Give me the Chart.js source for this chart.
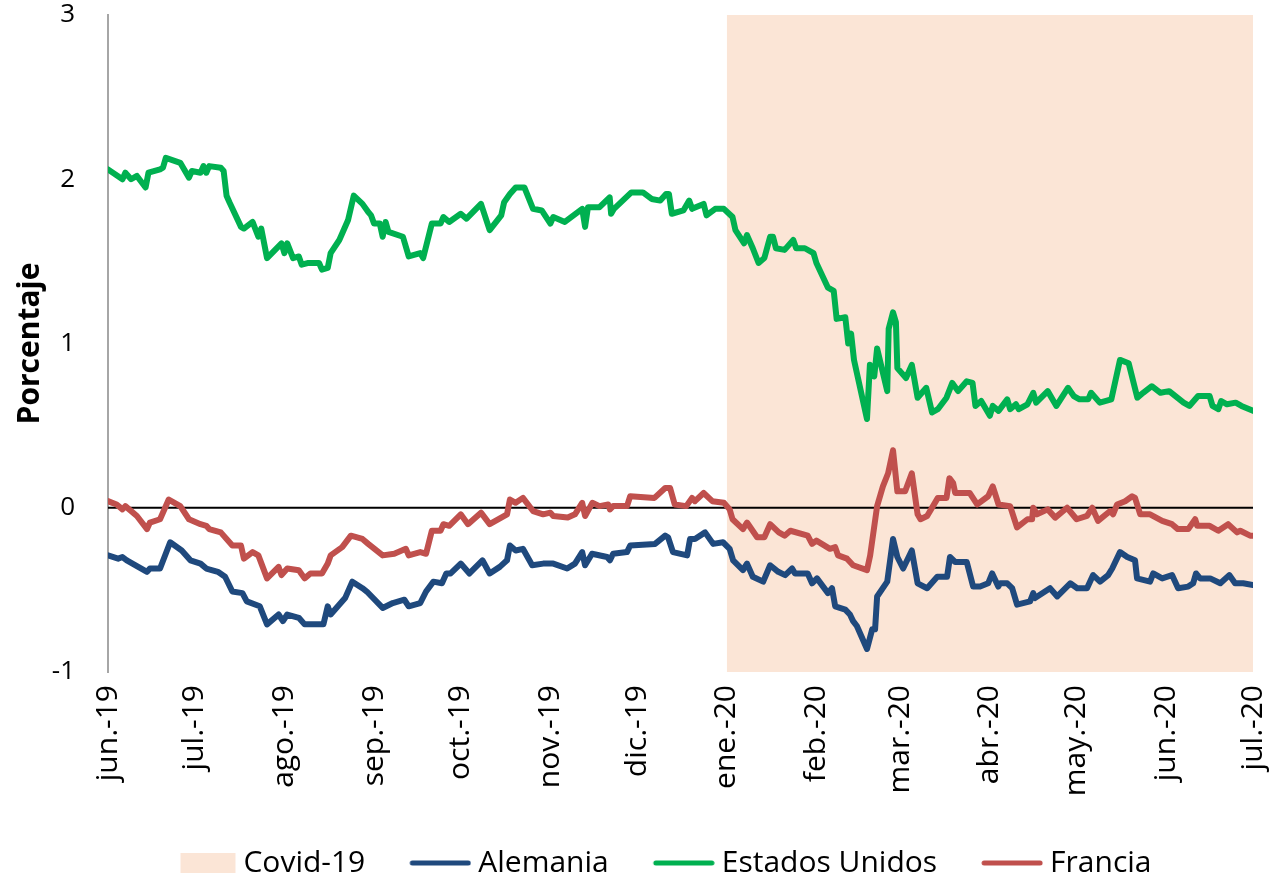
<!DOCTYPE html>
<html>
<head>
<meta charset="utf-8">
<script src="https://cdn.jsdelivr.net/npm/chart.js@4/dist/chart.umd.min.js"></script>
<style>
  html, body { margin: 0; padding: 0; background: #fff; }
  #wrap { width: 1273px; height: 883px; position: relative; }
</style>
</head>
<body>
<div id="wrap"><canvas id="grafico"></canvas></div>
<script>
"use strict";

// Eje X: dias desde el 1 de junio de 2019
var etiquetasMes = ["jun.-19", "jul.-19", "ago.-19", "sep.-19", "oct.-19", "nov.-19", "dic.-19",
  "ene.-20", "feb.-20", "mar.-20", "abr.-20", "may.-20", "jun.-20", "jul.-20"];
var diasMes = [0, 30, 61, 92, 122, 153, 183, 214, 245, 274, 305, 335, 366, 396];

// Periodo sombreado (Covid-19)
var periodoCovid = [214, 396];

var diasAlemania = [
  0, 3.5, 5, 6.5, 13.5, 14.5, 18, 21.5, 25.5, 28.5,
  32, 34, 38, 40.5, 43, 46.5, 48, 52.5, 55, 59,
  60.5, 62, 66, 68, 73, 74.5, 76, 77, 82, 84.5,
  88, 89.5, 95, 98.5, 102.5, 104, 108, 110, 112.5, 115.5,
  117, 118.5, 122, 125, 129.5, 132, 135.5, 138, 139, 141,
  143.5, 146.7, 150.5, 154, 158.8, 161.5, 164, 165, 167.4, 172.6,
  173.6, 174.7, 179.5, 180.6, 189.2, 192.7, 193.7, 195.4, 200.3, 201.3,
  203, 206.5, 209.3, 212.7, 215, 216.2, 219.6, 221, 223, 226.6,
  229, 231.8, 234.2, 236.6, 237.6, 242, 243.5, 245.2, 249, 250.4,
  251.5, 255, 256.6, 257.7, 259, 262.5, 264.3, 265.3, 266, 269.5,
  271.5, 273, 275, 278, 280, 283.3, 286.8, 290.2, 291.2, 293,
  297, 299.2, 301.6, 304.4, 305.8, 307.9, 308.5, 311, 312.7, 314.4,
  318.9, 320, 320.6, 325.8, 328.3, 332.8, 335.2, 338.6, 340.7, 343.1,
  345.9, 347.3, 350, 352.5, 355.2, 355.9, 360.4, 361.5, 364.6, 368,
  370.1, 373.6, 375.3, 376.3, 377.7, 381.2, 384.7, 387.8, 389.8, 392.6,
  396
];
var alemania = [
  -0.29, -0.31, -0.30, -0.32, -0.39, -0.37, -0.37, -0.21, -0.26, -0.32,
  -0.34, -0.37, -0.39, -0.42, -0.51, -0.52, -0.57, -0.60, -0.71, -0.65,
  -0.69, -0.65, -0.67, -0.71, -0.71, -0.71, -0.60, -0.65, -0.55, -0.45,
  -0.49, -0.51, -0.61, -0.58, -0.56, -0.60, -0.58, -0.51, -0.45, -0.46,
  -0.40, -0.40, -0.34, -0.40, -0.32, -0.40, -0.36, -0.32, -0.23, -0.26,
  -0.25, -0.35, -0.34, -0.34, -0.37, -0.34, -0.27, -0.35, -0.28, -0.30,
  -0.32, -0.28, -0.27, -0.23, -0.22, -0.17, -0.18, -0.27, -0.29, -0.19,
  -0.19, -0.15, -0.22, -0.21, -0.25, -0.32, -0.38, -0.34, -0.42, -0.45,
  -0.35, -0.39, -0.41, -0.37, -0.40, -0.40, -0.46, -0.43, -0.52, -0.49,
  -0.60, -0.62, -0.65, -0.69, -0.72, -0.86, -0.74, -0.74, -0.54, -0.45,
  -0.19, -0.30, -0.37, -0.26, -0.46, -0.49, -0.42, -0.42, -0.30, -0.33,
  -0.33, -0.48, -0.48, -0.46, -0.40, -0.48, -0.46, -0.46, -0.49, -0.59,
  -0.57, -0.52, -0.55, -0.49, -0.54, -0.46, -0.49, -0.49, -0.41, -0.45,
  -0.41, -0.37, -0.27, -0.30, -0.32, -0.43, -0.45, -0.40, -0.43, -0.41,
  -0.49, -0.48, -0.46, -0.40, -0.43, -0.43, -0.46, -0.41, -0.46, -0.46,
  -0.47
];

var diasEEUU = [
  0, 5, 6, 8, 10, 13, 14, 18, 19, 20,
  25, 26, 28, 29, 32, 33, 34, 35, 39, 40,
  41, 42, 46, 47, 50, 52, 53, 55, 60, 61,
  62, 64, 66, 67, 69, 73, 74, 76, 77, 80,
  83, 85, 88, 90, 91, 92, 94, 95, 96, 97,
  102, 104, 108, 109, 112, 115, 116, 118, 122, 124,
  129, 132, 136, 137, 139, 141, 144, 147, 150, 153,
  154, 158, 164, 165, 166, 170, 173.5, 174, 175, 181,
  185, 188, 191, 193, 194, 195, 199, 201, 202, 206,
  207, 210, 213, 216, 217, 220, 221, 223, 225, 227,
  229, 230, 231, 234, 237, 238, 241, 244, 245, 249,
  251, 252, 255, 256, 257, 258, 262.5, 263.5, 265, 266,
  269.5, 270, 271.5, 272.5, 273, 276, 278, 280, 283, 285,
  287, 290, 292, 294, 297, 299, 300, 302, 305, 306,
  308, 311, 312, 314, 315, 318, 320, 321, 325, 328,
  332, 334, 336, 339, 340, 343, 347, 350, 353, 356,
  358, 361, 364, 367, 372, 374, 377, 381, 382, 384,
  385, 387, 390, 392, 396
];
var estadosUnidos = [
  2.06, 2.00, 2.04, 2.00, 2.02, 1.95, 2.04, 2.06, 2.07, 2.13,
  2.10, 2.07, 2.01, 2.05, 2.04, 2.08, 2.04, 2.08, 2.07, 2.05,
  1.90, 1.86, 1.71, 1.70, 1.74, 1.65, 1.70, 1.52, 1.61, 1.55,
  1.61, 1.52, 1.53, 1.48, 1.49, 1.49, 1.45, 1.46, 1.55, 1.63,
  1.75, 1.90, 1.85, 1.80, 1.78, 1.73, 1.73, 1.65, 1.74, 1.68,
  1.65, 1.53, 1.55, 1.52, 1.73, 1.73, 1.77, 1.74, 1.79, 1.76,
  1.85, 1.69, 1.78, 1.86, 1.91, 1.95, 1.95, 1.82, 1.81, 1.73,
  1.77, 1.74, 1.82, 1.71, 1.83, 1.83, 1.89, 1.79, 1.82, 1.92,
  1.92, 1.88, 1.87, 1.91, 1.91, 1.79, 1.81, 1.87, 1.82, 1.85,
  1.78, 1.82, 1.82, 1.77, 1.69, 1.61, 1.66, 1.58, 1.49, 1.52,
  1.65, 1.65, 1.58, 1.57, 1.63, 1.58, 1.58, 1.55, 1.49, 1.34,
  1.32, 1.15, 1.16, 1.00, 1.06, 0.90, 0.54, 0.87, 0.80, 0.97,
  0.71, 1.09, 1.19, 1.13, 0.85, 0.79, 0.87, 0.67, 0.73, 0.58,
  0.60, 0.67, 0.76, 0.71, 0.77, 0.76, 0.62, 0.65, 0.56, 0.62,
  0.59, 0.66, 0.60, 0.63, 0.60, 0.63, 0.70, 0.64, 0.71, 0.62,
  0.73, 0.68, 0.66, 0.66, 0.70, 0.64, 0.66, 0.90, 0.88, 0.67,
  0.70, 0.74, 0.70, 0.71, 0.64, 0.62, 0.68, 0.68, 0.62, 0.60,
  0.65, 0.63, 0.64, 0.62, 0.59
];

var diasFrancia = [
  0, 3, 5, 6, 10, 13.5, 14.5, 18, 21, 25,
  28, 32, 34, 35, 39, 43, 46, 47, 50, 52,
  55, 59, 60, 62, 66, 68, 70, 74, 76, 77,
  81, 84, 88, 90, 95, 99, 103, 104, 108, 110,
  112, 115, 116, 118, 122, 124.5, 129, 132, 136, 138,
  139, 141, 143.5, 147, 150.5, 153, 154, 159, 161.5, 164,
  165, 167.5, 170, 173, 173.6, 174.7, 179.5, 180.6, 189, 192.7,
  194.4, 196, 200, 202, 203, 206, 209, 213, 215, 216,
  219.6, 221, 224.5, 227, 229, 232, 234, 236, 242, 243.5,
  245, 249.7, 251.5, 252.5, 255.6, 257.7, 262.5, 263.6, 266, 268,
  269.8, 271.5, 273, 275.7, 278, 280, 281, 283.3, 287, 290,
  291, 292.3, 293, 298, 300.6, 304.4, 306, 308, 312, 314.4,
  318, 319.6, 320, 321.3, 325, 327.6, 331.7, 335, 338.6, 340.4,
  342.4, 346.6, 347.6, 349, 351.8, 354.2, 355.2, 357, 360.4, 364.6,
  368, 370, 373.6, 376, 376.7, 381, 384, 387.4, 390.5, 391.6,
  395, 396
];
var francia = [
  0.04, 0.02, -0.01, 0.01, -0.05, -0.13, -0.09, -0.07, 0.05, 0.01,
  -0.07, -0.10, -0.11, -0.13, -0.15, -0.23, -0.23, -0.31, -0.27, -0.29,
  -0.43, -0.36, -0.41, -0.37, -0.38, -0.43, -0.40, -0.40, -0.34, -0.29,
  -0.24, -0.17, -0.19, -0.22, -0.29, -0.28, -0.25, -0.29, -0.27, -0.28,
  -0.14, -0.14, -0.10, -0.11, -0.04, -0.10, -0.03, -0.10, -0.06, -0.04,
  0.05, 0.03, 0.06, -0.02, -0.04, -0.03, -0.05, -0.06, -0.04, 0.03,
  -0.05, 0.03, 0.01, 0.02, -0.01, 0.01, 0.01, 0.07, 0.06, 0.12,
  0.12, 0.02, 0.01, 0.06, 0.04, 0.09, 0.04, 0.03, -0.01, -0.07,
  -0.13, -0.09, -0.18, -0.18, -0.10, -0.15, -0.17, -0.14, -0.17, -0.22,
  -0.20, -0.25, -0.24, -0.29, -0.31, -0.35, -0.38, -0.29, 0.01, 0.13,
  0.21, 0.35, 0.10, 0.10, 0.21, -0.04, -0.07, -0.05, 0.06, 0.06,
  0.18, 0.15, 0.09, 0.09, 0.02, 0.07, 0.13, 0.02, 0.01, -0.12,
  -0.07, -0.07, 0.00, -0.04, -0.01, -0.06, 0.00, -0.07, -0.05, 0.00,
  -0.08, -0.02, -0.04, 0.02, 0.04, 0.07, 0.06, -0.04, -0.04, -0.08,
  -0.10, -0.13, -0.13, -0.07, -0.11, -0.11, -0.14, -0.10, -0.15, -0.14,
  -0.17, -0.17
];

var fuente = "'Open Sans', 'DejaVu Sans', sans-serif";
var colorCovid = "#FBE5D6";
var colorAlemania = "#1F497D";
var colorEEUU = "#00B050";
var colorFrancia = "#C0504D";

function _puntos(dias, valores) {
  return dias.map(function(d, i) {
    return { x: d, y: valores[i] };
  });
}

// muestra para la leyenda (rectangulo o linea), dibujada a la derecha del lienzo
function _muestra(color, esCaja) {
  var c = document.createElement("canvas");
  c.width = 111;
  c.height = 24;
  var ctx = c.getContext("2d");
  if (esCaja) {
    ctx.fillStyle = color;
    ctx.fillRect(55, 2, 55, 20);
  } else {
    ctx.strokeStyle = color;
    ctx.lineWidth = 5;
    ctx.lineCap = "round";
    ctx.beginPath();
    ctx.moveTo(52, 12);
    ctx.lineTo(108, 12);
    ctx.stroke();
  }
  return c;
}

function _serie(label, dias, valores, color) {
  return {
    label: label,
    data: _puntos(dias, valores),
    borderColor: color,
    backgroundColor: color,
    borderWidth: 6,
    borderJoinStyle: "round",
    borderCapStyle: "round",
    pointRadius: 0,
    fill: false,
    tension: 0,
    order: 1,
    muestra: _muestra(color, false)
  };
}

var datasets = [
  {
    label: "Covid-19",
    data: [{ x: periodoCovid[0], y: 3 }, { x: periodoCovid[1], y: 3 }],
    borderWidth: 0,
    borderColor: colorCovid,
    backgroundColor: colorCovid,
    pointRadius: 0,
    fill: { value: -1 },
    order: 10,
    muestra: _muestra(colorCovid, true)
  },
  _serie("Alemania", diasAlemania, alemania, colorAlemania),
  _serie("Estados Unidos", diasEEUU, estadosUnidos, colorEEUU),
  _serie("Francia", diasFrancia, francia, colorFrancia),
  {
    label: "",
    data: [{ x: diasMes[0], y: 0 }, { x: diasMes[diasMes.length - 1], y: 0 }],
    borderColor: "#000000",
    borderWidth: 2,
    pointRadius: 0,
    fill: false,
    order: 5
  }
];

new Chart(document.getElementById("grafico"), {
  type: "line",
  data: { datasets: datasets },
  options: {
    responsive: true,
    maintainAspectRatio: false,
    animation: false,
    layout: { padding: { top: 15, right: 20, bottom: -5, left: 32 } },
    plugins: {
      tooltip: { enabled: false },
      legend: {
        position: "bottom",
        labels: {
          usePointStyle: true,
          pointStyleWidth: 95,
          padding: 3,
          color: "#000",
          font: { family: fuente, size: 30 },
          generateLabels: function(chart) {
            return chart.data.datasets.map(function(ds, i) {
              return {
                text: ds.label,
                datasetIndex: i,
                pointStyle: ds.muestra,
                fillStyle: ds.backgroundColor,
                strokeStyle: ds.borderColor,
                lineWidth: 0,
                fontColor: "#000",
                hidden: false
              };
            }).filter(function(item) {
              return item.text !== "";
            });
          }
        }
      }
    },
    scales: {
      x: {
        type: "linear",
        min: diasMes[0],
        max: diasMes[diasMes.length - 1],
        grid: { display: false },
        border: { display: false },
        afterBuildTicks: function(scale) {
          scale.ticks = diasMes.map(function(d) { return { value: d }; });
        },
        afterFit: function(scale) {
          scale.height = 173;
          scale.paddingLeft = 0;
          scale.paddingRight = 0;
        },
        ticks: {
          autoSkip: false,
          minRotation: 90,
          maxRotation: 90,
          padding: 5,
          color: "#000",
          font: { family: fuente, size: 30 },
          callback: function(value) {
            return etiquetasMes[diasMes.indexOf(value)];
          }
        }
      },
      y: {
        min: -1,
        max: 3,
        grid: { display: false, drawTicks: false },
        border: { display: true, color: "#A6A6A6", width: 2 },
        afterFit: function(scale) {
          scale.width = 76;
          scale.paddingTop = 0;
          scale.paddingBottom = 0;
        },
        ticks: {
          stepSize: 1,
          padding: 33,
          color: "#000",
          font: { family: fuente, size: 26 }
        },
        title: {
          display: true,
          text: "Porcentaje",
          color: "#000",
          padding: { top: -20, bottom: 0 },
          font: { family: fuente, size: 30, weight: "bold" }
        }
      }
    }
  }
});
</script>
</body>
</html>
